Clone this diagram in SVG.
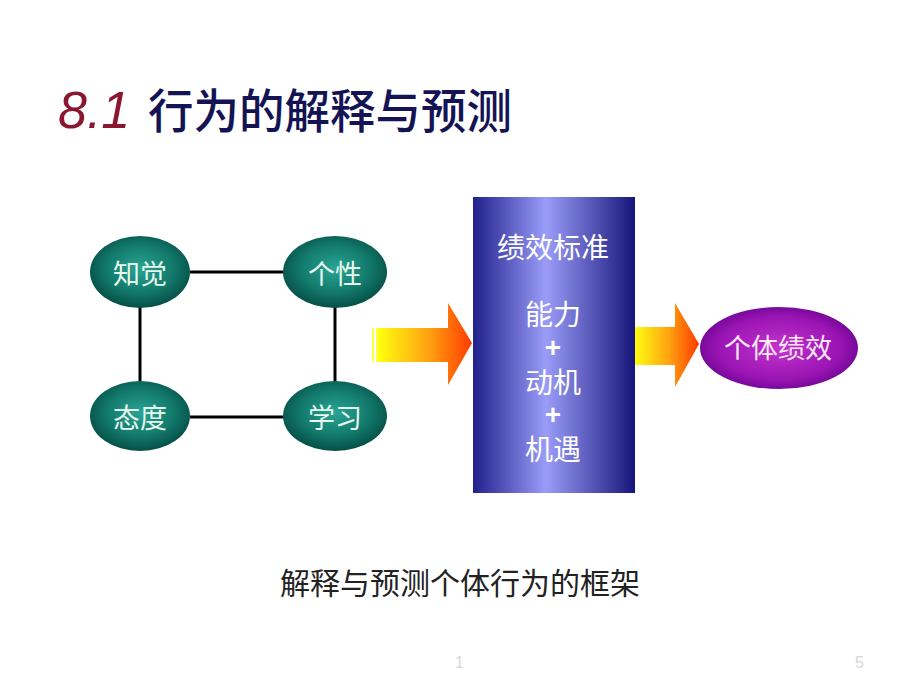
<svg xmlns="http://www.w3.org/2000/svg" width="920" height="690" viewBox="0 0 920 690">
<defs>
<radialGradient id="teal" cx="50%" cy="45%" r="55%">
<stop offset="0" stop-color="#2aa494"/>
<stop offset="0.6" stop-color="#127a6c"/>
<stop offset="1" stop-color="#064f46"/>
</radialGradient>
<radialGradient id="purple" cx="50%" cy="50%" r="55%">
<stop offset="0" stop-color="#c434cc"/>
<stop offset="0.7" stop-color="#9a14b4"/>
<stop offset="1" stop-color="#6a0490"/>
</radialGradient>
<linearGradient id="blue" x1="0" y1="0" x2="1" y2="0">
<stop offset="0" stop-color="#20208c"/>
<stop offset="0.45" stop-color="#9a9cf8"/>
<stop offset="1" stop-color="#16167a"/>
</linearGradient>
<linearGradient id="arrow" x1="0" y1="0" x2="1" y2="0">
<stop offset="0" stop-color="#ffff10"/>
<stop offset="0.55" stop-color="#ffa010"/>
<stop offset="1" stop-color="#ff3a00"/>
</linearGradient>
<style>
.cn{font-family:"Liberation Sans","Noto Sans CJK SC",sans-serif;}
.nt{fill:#e6f8ec;font-size:27px;text-anchor:middle;}
.bt{fill:#ffffff;font-size:28px;text-anchor:middle;}
.ln{stroke:#000;stroke-width:3;fill:none;}
</style>
</defs>
<rect width="920" height="690" fill="#ffffff"/>
<g id="title">
<text x="58" y="128" font-family="Liberation Sans,sans-serif" font-style="italic" font-size="52" fill="#8a1630">8.1</text>
<text x="148" y="128" class="cn" font-size="47" font-weight="500" fill="#141454" textLength="364" lengthAdjust="spacingAndGlyphs">行为的解释与预测</text>
</g>
<g id="connectors">
<line class="ln" x1="190" y1="272" x2="284" y2="272"/>
<line class="ln" x1="190" y1="417" x2="284" y2="417"/>
<line class="ln" x1="140" y1="306" x2="140" y2="384"/>
<line class="ln" x1="335" y1="306" x2="335" y2="384"/>
<g id="arrow1">
<path d="M378,328 H448 V303 L472,343 L448,385 V362 H378 Z" fill="url(#arrow)"/>
<rect x="372" y="328" width="2" height="34" fill="#ffff40"/>
<rect x="376" y="328" width="2" height="34" fill="#ffff40"/>
</g>
<g id="arrow2">
<path d="M634,327 H675 V303 L699,344 L675,387 V365 H634 Z" fill="url(#arrow)"/>
</g>
</g>
<g id="n-zhijue">
<ellipse cx="140" cy="272" rx="50" ry="36" fill="url(#teal)"/>
<text x="140" y="284" class="cn nt">知觉</text>
</g>
<g id="n-gexing">
<ellipse cx="335" cy="272" rx="52" ry="36" fill="url(#teal)"/>
<text x="335" y="284" class="cn nt">个性</text>
</g>
<g id="n-taidu">
<ellipse cx="140" cy="416" rx="50" ry="35" fill="url(#teal)"/>
<text x="140" y="428" class="cn nt">态度</text>
</g>
<g id="n-xuexi">
<ellipse cx="335" cy="416" rx="52" ry="35" fill="url(#teal)"/>
<text x="335" y="428" class="cn nt">学习</text>
</g>
<g id="n-box">
<rect x="473" y="197" width="162" height="296" fill="url(#blue)"/>
<text x="553" y="258" class="cn bt">绩效标准</text>
<text x="553" y="325" class="cn bt">能力</text>
<text x="553" y="357" class="cn bt" font-weight="bold">+</text>
<text x="553" y="393" class="cn bt">动机</text>
<text x="553" y="424" class="cn bt" font-weight="bold">+</text>
<text x="553" y="460" class="cn bt">机遇</text>
</g>
<g id="n-geti">
<ellipse cx="779" cy="348" rx="79" ry="41" fill="url(#purple)"/>
<text x="778" y="358" class="cn" font-size="27" fill="#fde6f8" text-anchor="middle">个体绩效</text>
</g>
<g id="caption">
<text x="460" y="594" class="cn" font-size="30" fill="#222" text-anchor="middle">解释与预测个体行为的框架</text>
</g>
<g id="footer">
<text x="455" y="668" font-family="Liberation Sans,sans-serif" font-size="16" fill="#d8d8d8">1</text>
<text x="855" y="668" font-family="Liberation Sans,sans-serif" font-size="16" fill="#d8d8d8">5</text>
</g>
</svg>
